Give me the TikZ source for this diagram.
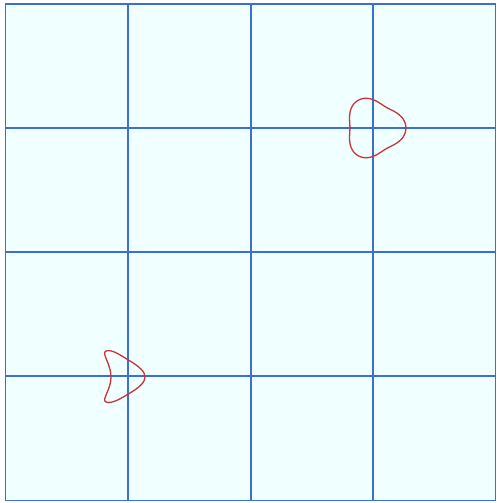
\documentclass[tikz,border=0pt]{standalone}
\definecolor{gridblue}{HTML}{3B6FD2}
\definecolor{bgcyan}{HTML}{F0FFFF}
\definecolor{curvered}{HTML}{CC3333}
\tikzset{
  gridline/.style={draw=gridblue, line width=1.5pt},
  curve/.style={draw=curvered, line width=1.3pt, line join=round}
}
\begin{document}
\begin{tikzpicture}[x=1pt,y=-1pt]
\useasboundingbox (0,0) rectangle (497,503);
\fill[white] (0,0) rectangle (497,503);
\fill[bgcyan] (5.5,4) rectangle (495.5,500.5);
% grid lines
\foreach \xx in {128,251,373} \draw[gridline] (\xx,4) -- (\xx,500.5);
\foreach \yy in {128,252,376} \draw[gridline] (5.5,\yy) -- (495.5,\yy);
\draw[gridline] (5.5,4) rectangle (495.5,500.5);
% rounded triangle
\draw[curve] plot[domain=0:360, samples=120, smooth cycle]
  ({374+28*(1+0.14*cos(3*\x))*cos(\x)}, {128+28*(1+0.14*cos(3*\x))*sin(\x)});
% crescent
\draw[curve] (106,351) .. controls (112,349) and (120,355) .. (130,361)
  .. controls (140,367) and (145,372) .. (145,377)
  .. controls (145,382) and (140,387) .. (130,393)
  .. controls (120,399) and (112,404) .. (106,402)
  .. controls (101,400) and (111,390) .. (111,377)
  .. controls (111,364) and (101,353) .. (106,351) -- cycle;
\end{tikzpicture}
\end{document}
